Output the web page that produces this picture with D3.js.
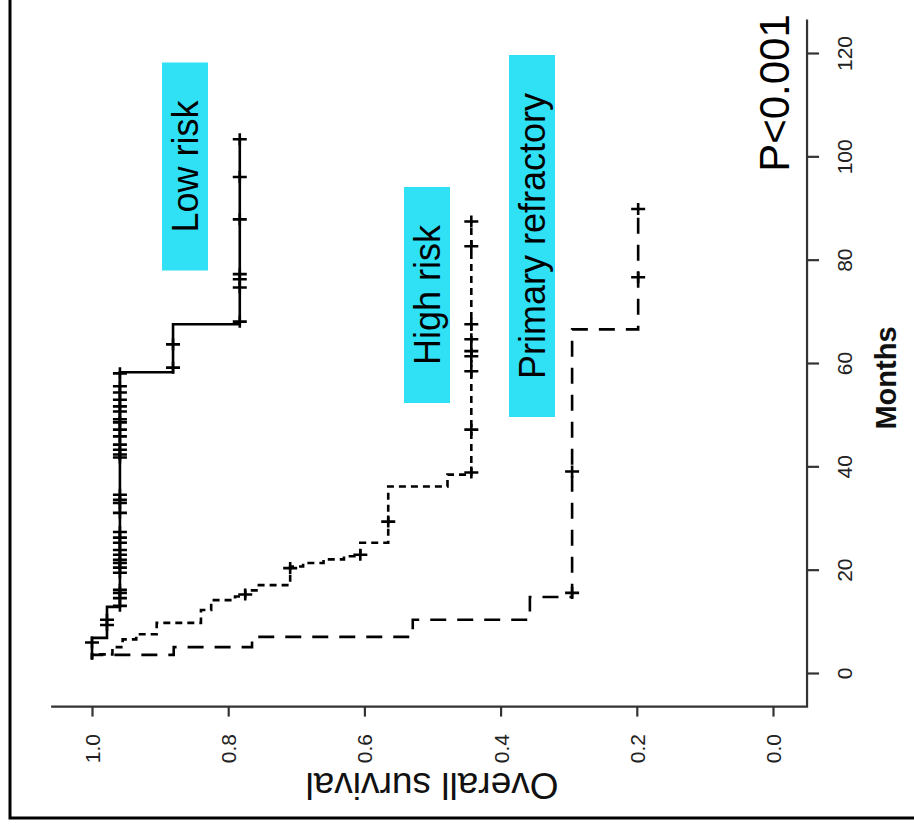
<!DOCTYPE html>
<html>
<head>
<meta charset="utf-8">
<script src="https://cdn.jsdelivr.net/npm/d3@7"></script>
<style>
  html, body { margin: 0; padding: 0; background: #fff; }
  svg { display: block; }
  text { font-family: "Liberation Sans", Arial, Helvetica, sans-serif; }
</style>
</head>
<body>
<svg id="chart" width="914" height="828"></svg>
<script>
// Kaplan–Meier overall survival by risk group, drawn turned on its side:
// months run up the right-hand axis, survival runs right-to-left along the bottom.

const groups = ["Low risk", "High risk", "Primary refractory"];
const startMonth = 2.6;

// Each event: [month, survival after the drop]
const lowRiskEvents = [[6.8, 0.978], [12.8, 0.959], [58.2, 0.881], [67.5, 0.783]];
const lowRiskCensored = [5.9, 9.3, 10.3, 13.0, 14.5, 15.5, 16.1, 19.4, 20.4, 21.3, 21.9, 22.9,
  23.8, 25.2, 26.2, 27.3, 31.0, 32.9, 33.5, 34.5, 41.7, 42.3, 43.2, 44.2, 45.8, 47.1, 48.5,
  49.1, 50.6, 51.6, 52.9, 54.3, 55.5, 58.0, 59.1, 63.6, 68.0, 74.6, 76.2, 77.2, 87.8, 96.0, 103.3];
const lowRiskLast = 103.3;

const highRiskEvents = [[3.6, 0.97], [5.0, 0.955], [6.5, 0.935], [7.5, 0.905], [9.7, 0.84],
  [12.2, 0.825], [14.1, 0.79], [14.8, 0.775], [16.0, 0.755], [17.0, 0.709], [20.6, 0.69],
  [21.3, 0.66], [22.0, 0.63], [22.6, 0.606], [25.2, 0.565], [36.1, 0.478], [38.4, 0.443]];
const highRiskCensored = [15.2, 20.3, 22.9, 29.3, 38.8, 47.1, 58.4, 61.3, 62.3, 64.6, 67.5, 82.6, 87.4];
const highRiskLast = 87.4;

const refractoryEvents = [[3.5, 0.88], [5.0, 0.765], [7.0, 0.529], [10.3, 0.357], [14.7, 0.295], [66.5, 0.198]];
const refractoryCensored = [15.5, 39.0, 76.6, 89.8];
const refractoryLast = 89.8;

const survivalTicks = [1.0, 0.8, 0.6, 0.4, 0.2, 0.0];
const monthTicks = [0, 20, 40, 60, 80, 100, 120];
const pValueText = "P<0.001";

const svg = d3.select("#chart");

// Scales
const xS = d3.scaleLinear().domain([0, 1]).range([773, 92]);      // survival
const yM = d3.scaleLinear().domain([0, 120]).range([673, 53]);    // months

// Outer frame (left and bottom edges)
svg.append("path")
  .attr("d", "M10,0 V818 H914")
  .attr("fill", "none").attr("stroke", "#000").attr("stroke-width", 3);

// Axis box lines (L shape joining at the lower right)
const axisColor = "#333";
svg.append("path")
  .attr("d", `M${xS(1.06)},${yM(-6.5)} H${xS(-0.05)} V${yM(126.5)}`)
  .attr("fill", "none").attr("stroke", axisColor).attr("stroke-width", 2.2);

// Survival axis (bottom)
const survAxis = svg.append("g")
  .attr("transform", `translate(0,${yM(-6.5)})`)
  .call(d3.axisBottom(xS).tickValues(survivalTicks).tickFormat(d3.format(".1f")).tickSize(10).tickSizeOuter(0));
survAxis.select(".domain").remove();
survAxis.selectAll(".tick line").attr("stroke", axisColor).attr("stroke-width", 2.2);
survAxis.selectAll(".tick text")
  .attr("transform", "rotate(-90)")
  .attr("x", -42).attr("y", 7.5).attr("dy", 0)
  .attr("text-anchor", "middle")
  .attr("fill", "#222")
  .style("font-size", "21px");

// Months axis (right)
const monthAxis = svg.append("g")
  .attr("transform", `translate(${xS(-0.05)},0)`)
  .call(d3.axisRight(yM).tickValues(monthTicks).tickSize(12).tickSizeOuter(0));
monthAxis.select(".domain").remove();
monthAxis.selectAll(".tick line").attr("stroke", axisColor).attr("stroke-width", 2.2);
monthAxis.selectAll(".tick text")
  .attr("transform", "rotate(-90)")
  .attr("x", 0).attr("y", 45).attr("dy", 0)
  .attr("text-anchor", "middle")
  .attr("fill", "#222")
  .style("font-size", "21px");

// Axis titles
svg.append("text")
  .attr("transform", "translate(432,773) rotate(180)")
  .attr("text-anchor", "middle")
  .style("font-size", "37px")
  .attr("fill", "#111")
  .text("Overall survival");

svg.append("text")
  .attr("transform", "translate(896,378) rotate(-90)")
  .attr("text-anchor", "middle")
  .style("font-size", "29px").style("font-weight", "bold")
  .attr("fill", "#111")
  .text("Months");

// Survival curves
function stepPoints(events, last) {
  const pts = [[startMonth, 1]];
  let s = 1;
  for (const [t, v] of events) { pts.push([t, s]); pts.push([t, v]); s = v; }
  pts.push([last, s]);
  return pts;
}
function survivalAt(events, t) {
  let s = 1;
  for (const [te, v] of events) { if (te <= t) s = v; }
  return s;
}
const line = d3.line().x(d => xS(d[1])).y(d => yM(d[0]));

const curves = [
  { name: groups[0], events: lowRiskEvents, censored: lowRiskCensored, last: lowRiskLast, dash: null },
  { name: groups[1], events: highRiskEvents, censored: highRiskCensored, last: highRiskLast, dash: "7,5" },
  { name: groups[2], events: refractoryEvents, censored: refractoryCensored, last: refractoryLast, dash: "16,11" }
];

const curveG = svg.append("g");
curves.forEach(c => {
  curveG.append("path")
    .attr("d", line(stepPoints(c.events, c.last)))
    .attr("fill", "none")
    .attr("stroke", "#000")
    .attr("stroke-width", 2.6)
    .attr("stroke-dasharray", c.dash);
  curveG.selectAll(null)
    .data(c.censored)
    .join("path")
    .attr("d", t => {
      const x = xS(survivalAt(c.events, t)), y = yM(t);
      return `M${x - 7},${y} H${x + 7} M${x},${y - 6} V${y + 6}`;
    })
    .attr("fill", "none")
    .attr("stroke", "#000")
    .attr("stroke-width", 2.6);
});

// Group labels on cyan boxes
const labelFont = 36;
const labelBoxes = [
  { text: groups[0], cx: 185, cy: 166.5 },
  { text: groups[1], cx: 427, cy: 295 },
  { text: groups[2], cx: 532, cy: 236 }
];
labelBoxes.forEach(b => {
  const g = svg.append("g");
  const rect = g.append("rect").attr("fill", "#30E0F5");
  const t = g.append("text")
    .attr("transform", `translate(${b.cx + 0.36 * labelFont},${b.cy}) rotate(-90)`)
    .attr("text-anchor", "middle")
    .style("font-size", labelFont + "px")
    .attr("fill", "#000")
    .text(b.text);
  const len = t.node().getComputedTextLength();
  const h = len + 76;
  rect.attr("x", b.cx - 23).attr("y", b.cy - h / 2).attr("width", 46).attr("height", h);
});

// Log-rank p-value
svg.append("text")
  .attr("transform", "translate(789,93) rotate(-90)")
  .attr("text-anchor", "middle")
  .style("font-size", "42px")
  .attr("fill", "#000")
  .text(pValueText);
</script>
</body>
</html>
